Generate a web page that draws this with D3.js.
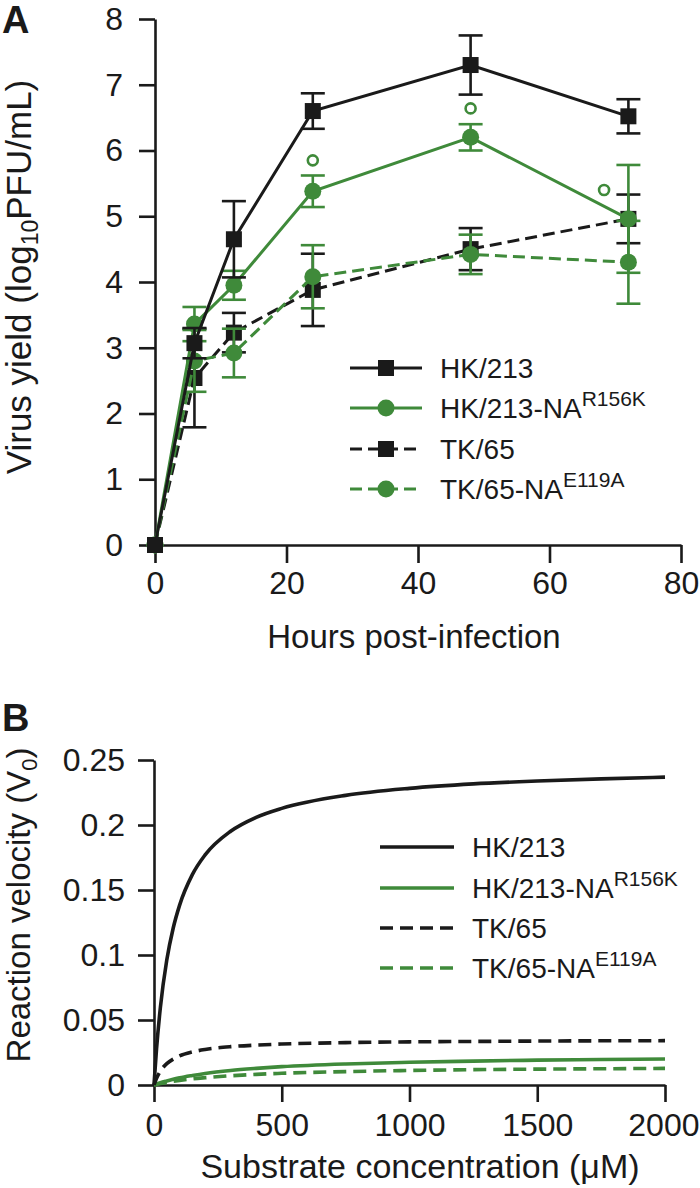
<!DOCTYPE html>
<html>
<head>
<meta charset="utf-8">
<script src="https://cdn.jsdelivr.net/npm/d3@7"></script>
<style>
  html, body { margin: 0; padding: 0; background: #fff; }
  svg text { font-family: "Liberation Sans", Arial, Helvetica, sans-serif; fill: #1a1a1a; }
</style>
</head>
<body>
<svg id="chart" width="700" height="1188"></svg>
<script>
// ---------- Data ----------
const seriesNames = ["HK/213", "HK/213-NA", "TK/65", "TK/65-NA"];
const seriesSup = ["", "R156K", "", "E119A"];

// Panel A: virus yield (log10 PFU/mL) vs hours post-infection
const hoursA = [0, 6, 12, 24, 48, 72];
const yieldHK213 = [0, 3.07, 4.65, 6.6, 7.3, 6.52];
const errHK213 = [0, 0.23, 0.58, 0.27, 0.45, 0.26];
const yieldHK213NA = [0, 3.36, 3.95, 5.38, 6.2, 4.96];
const errHK213NA = [0, 0.26, 0.22, 0.24, 0.2, 0.82];
const yieldTK65 = [0, 2.54, 3.23, 3.88, 4.5, 4.96];
const errTK65 = [0, 0.75, 0.3, 0.55, 0.32, 0.37];
const yieldTK65NA = [0, 2.8, 2.92, 4.08, 4.42, 4.3];
const errTK65NA = [0, 0.47, 0.37, 0.48, 0.3, 0.63];
// significance markers (open circles)
const sigHours = [24, 48, 68.3];
const sigYield = [5.85, 6.64, 5.4];

const xTicksA = [0, 20, 40, 60, 80];
const yTicksA = [0, 1, 2, 3, 4, 5, 6, 7, 8];

// Panel B: reaction velocity vs substrate concentration
const substrate = [0, 10, 25, 50, 75, 100, 150, 200, 300, 400, 500, 750, 1000, 1250, 1500, 1750, 2000];
const velHK213 = [0, 0.028, 0.0597, 0.0961, 0.1206, 0.1382, 0.1618, 0.177, 0.1952, 0.2059, 0.2128, 0.2228, 0.2282, 0.2316, 0.2338, 0.2355, 0.2368];
const velHK213NA = [0, 0.0007, 0.0017, 0.0031, 0.0044, 0.0055, 0.0073, 0.0089, 0.0112, 0.0128, 0.0141, 0.0162, 0.0175, 0.0184, 0.0191, 0.0196, 0.02];
const velTK65 = [0, 0.0052, 0.0107, 0.0164, 0.0199, 0.0224, 0.0254, 0.0273, 0.0295, 0.0307, 0.0315, 0.0326, 0.0332, 0.0335, 0.0338, 0.034, 0.0341];
const velTK65NA = [0, 0.0004, 0.0011, 0.002, 0.0028, 0.0035, 0.0047, 0.0056, 0.0071, 0.0082, 0.009, 0.0103, 0.0112, 0.0118, 0.0122, 0.0125, 0.0128];

const xTicksB = [0, 500, 1000, 1500, 2000];
const yTicksB = [0, 0.05, 0.1, 0.15, 0.2, 0.25];
const yTickLabelsB = ["0", "0.05", "0.1", "0.15", "0.2", "0.25"];

// ---------- Styles ----------
const BLACK = "#1a1a1a";
const GREEN = "#3f8a3a";
const seriesColor = [BLACK, GREEN, BLACK, GREEN];
const seriesDashed = [false, false, true, true];
const seriesMarker = ["square", "circle", "square", "circle"];

const svg = d3.select("#chart");
const TICK_FONT = 32, LEGEND_FONT = 28, SUP_FONT = 21;

function styleAxis(g) {
  g.selectAll("path.domain").attr("stroke", BLACK).attr("stroke-width", 2.6);
  g.selectAll(".tick line").attr("stroke", BLACK).attr("stroke-width", 2.6);
  g.selectAll(".tick text").attr("font-size", TICK_FONT).attr("fill", BLACK);
}

function drawMarker(g, type, x, y, color) {
  if (type === "square") {
    g.append("rect").attr("x", x - 8).attr("y", y - 8).attr("width", 16).attr("height", 16).attr("fill", color);
  } else {
    g.append("circle").attr("cx", x).attr("cy", y).attr("r", 8.5).attr("fill", color);
  }
}

// ================= Panel A =================
const xA = d3.scaleLinear().domain([0, 80]).range([155, 681]);
const yA = d3.scaleLinear().domain([0, 8]).range([545, 19]);

const gA = svg.append("g");

gA.append("g").attr("transform", `translate(0,${yA(0)})`)
  .call(d3.axisBottom(xA).tickValues(xTicksA).tickSize(18).tickSizeOuter(0).tickPadding(8).tickFormat(d3.format("d")))
  .call(styleAxis);
gA.append("g").attr("transform", `translate(${xA(0)},0)`)
  .call(d3.axisLeft(yA).tickValues(yTicksA).tickSize(16).tickSizeOuter(0).tickPadding(16).tickFormat(d3.format("d")))
  .call(styleAxis);

const dataA = [
  { y: yieldHK213, e: errHK213 },
  { y: yieldHK213NA, e: errHK213NA },
  { y: yieldTK65, e: errTK65 },
  { y: yieldTK65NA, e: errTK65NA }
];
const lineA = d3.line().x(d => xA(d.h)).y(d => yA(d.v));
const drawOrder = [2, 3, 1, 0];
const CAP = 12;

drawOrder.forEach(i => {
  const pts = hoursA.map((h, k) => ({ h, v: dataA[i].y[k], e: dataA[i].e[k] }));
  const g = gA.append("g");
  pts.filter(p => p.e > 0).forEach(p => {
    const x = xA(p.h), y1 = yA(p.v + p.e), y2 = yA(p.v - p.e);
    g.append("line").attr("x1", x).attr("x2", x).attr("y1", y1).attr("y2", y2)
      .attr("stroke", seriesColor[i]).attr("stroke-width", 2.6);
    [y1, y2].forEach(yy => g.append("line").attr("x1", x - CAP).attr("x2", x + CAP).attr("y1", yy).attr("y2", yy)
      .attr("stroke", seriesColor[i]).attr("stroke-width", 2.6));
  });
  g.append("path").datum(pts).attr("d", lineA).attr("fill", "none")
    .attr("stroke", seriesColor[i]).attr("stroke-width", 3)
    .attr("stroke-dasharray", seriesDashed[i] ? "12,6" : null);
  pts.forEach(p => drawMarker(g, seriesMarker[i], xA(p.h), yA(p.v), seriesColor[i]));
});

sigHours.forEach((h, k) => {
  gA.append("circle").attr("cx", xA(h)).attr("cy", yA(sigYield[k])).attr("r", 5)
    .attr("fill", "none").attr("stroke", GREEN).attr("stroke-width", 2.6);
});

// Legend A
const legA = gA.append("g");
const legAy = [368, 408, 449, 489];
seriesNames.forEach((n, i) => {
  const y = legAy[i];
  legA.append("line").attr("x1", 350).attr("x2", 422).attr("y1", y).attr("y2", y)
    .attr("stroke", seriesColor[i]).attr("stroke-width", 3)
    .attr("stroke-dasharray", seriesDashed[i] ? "12,6" : null);
  drawMarker(legA, seriesMarker[i], 386, y, seriesColor[i]);
  const t = legA.append("text").attr("x", 440).attr("y", y + 10).attr("font-size", LEGEND_FONT);
  t.append("tspan").text(n);
  if (seriesSup[i]) t.append("tspan").attr("font-size", SUP_FONT).attr("dy", -12).text(seriesSup[i]);
});

gA.append("text").attr("x", 414).attr("y", 648).attr("text-anchor", "middle")
  .attr("font-size", 33).text("Hours post-infection");
const ytA = gA.append("text").attr("transform", "translate(31,277) rotate(-90)")
  .attr("text-anchor", "middle").attr("font-size", 35);
ytA.append("tspan").text("Virus yield (log");
ytA.append("tspan").attr("font-size", 23).attr("dy", 7).text("10");
ytA.append("tspan").attr("dy", -7).text("PFU/mL)");

svg.append("text").attr("x", 2).attr("y", 33).attr("font-size", 38).attr("font-weight", "bold").text("A");

// ================= Panel B =================
const xB = d3.scaleLinear().domain([0, 2000]).range([154, 665]);
const yB = d3.scaleLinear().domain([0, 0.25]).range([1085, 760]);
const gB = svg.append("g");

const xAxisB = gB.append("g").attr("transform", `translate(0,${yB(0)})`)
  .call(d3.axisBottom(xB).tickValues(xTicksB).tickSize(17).tickSizeOuter(0).tickPadding(11).tickFormat(d3.format("d")))
  .call(styleAxis);
// keep the last label inside the picture edge
xAxisB.selectAll(".tick text").filter(d => d === 2000).attr("text-anchor", "end").attr("x", 34);

gB.append("g").attr("transform", `translate(${xB(0)},0)`)
  .call(d3.axisLeft(yB).tickValues(yTicksB).tickSize(16).tickSizeOuter(0).tickPadding(13)
    .tickFormat((d, i) => yTickLabelsB[i]))
  .call(styleAxis);

const velData = [velHK213, velHK213NA, velTK65, velTK65NA];
const lineB = d3.line().x(d => xB(d.s)).y(d => yB(d.v)).curve(d3.curveMonotoneX);
[3, 1, 2, 0].forEach(i => {
  const pts = substrate.map((s, k) => ({ s, v: velData[i][k] }));
  gB.append("path").datum(pts).attr("d", lineB).attr("fill", "none")
    .attr("stroke", seriesColor[i]).attr("stroke-width", 3.6)
    .attr("stroke-dasharray", seriesDashed[i] ? "13,7" : null);
});

// Legend B
const legB = gB.append("g");
const legBy = [847, 888, 928, 968];
seriesNames.forEach((n, i) => {
  const y = legBy[i];
  legB.append("line").attr("x1", 380).attr("x2", 454).attr("y1", y).attr("y2", y)
    .attr("stroke", seriesColor[i]).attr("stroke-width", 3.6)
    .attr("stroke-dasharray", seriesDashed[i] ? "13,7" : null);
  const t = legB.append("text").attr("x", 472).attr("y", y + 10).attr("font-size", LEGEND_FONT);
  t.append("tspan").text(n);
  if (seriesSup[i]) t.append("tspan").attr("font-size", SUP_FONT).attr("dy", -12).text(seriesSup[i]);
});

gB.append("text").attr("x", 420).attr("y", 1178).attr("text-anchor", "middle")
  .attr("font-size", 34).text("Substrate concentration (\u03BCM)");
const ytB = gB.append("text").attr("transform", "translate(30,905) rotate(-90)")
  .attr("text-anchor", "middle").attr("font-size", 33);
ytB.append("tspan").text("Reaction velocity (V");
ytB.append("tspan").attr("font-size", 22).attr("dy", 7).text("0");
ytB.append("tspan").attr("dy", -7).text(")");

svg.append("text").attr("x", 2).attr("y", 731).attr("font-size", 38).attr("font-weight", "bold").text("B");
</script>
</body>
</html>
